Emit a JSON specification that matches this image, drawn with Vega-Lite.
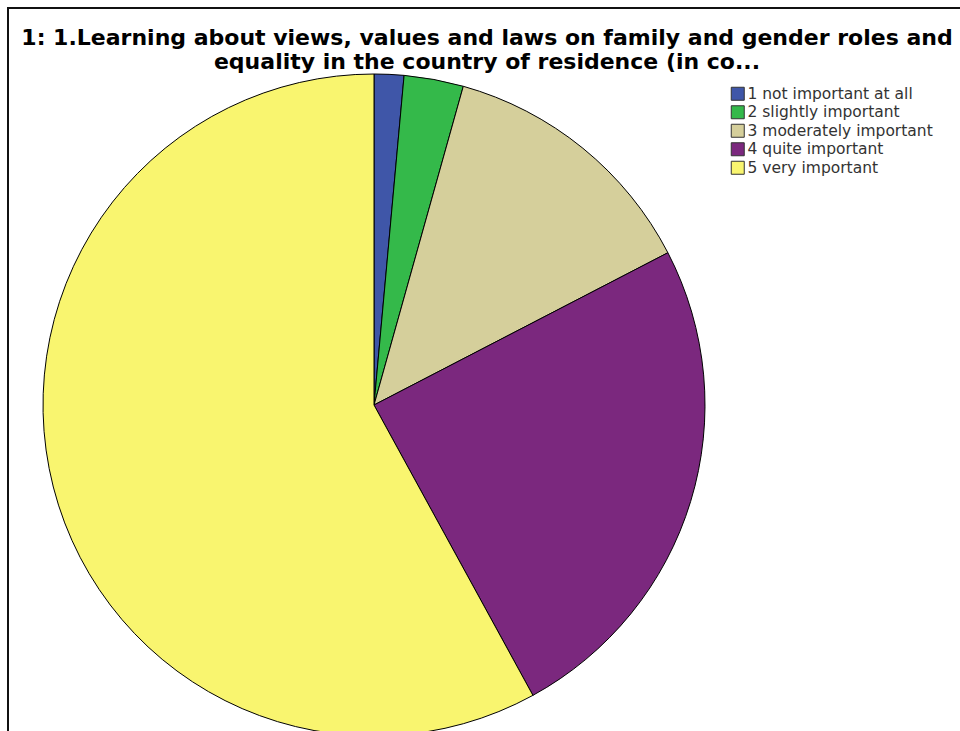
{
  "$schema": "https://vega.github.io/schema/vega-lite/v6.json",
  "autosize": "none",
  "width": 952,
  "height": 723,
  "padding": {"left": 8, "top": 8, "right": 0, "bottom": 0},
  "background": "white",
  "config": {"view": {"stroke": null}},
  "title": {
    "text": ["1: 1.Learning about views, values and laws on family and gender roles and", "equality in the country of residence (in co..."],
    "font": "DejaVu Sans",
    "fontSize": 22,
    "fontWeight": "bold",
    "color": "#000000",
    "lineHeight": 24,
    "anchor": "middle",
    "dx": 3,
    "offset": -67
  },
  "layer": [
    {
      "data": {"values": [{"frame": 1}]},
      "mark": {"type": "rect", "fill": null, "stroke": "#111111", "strokeWidth": 2, "strokeDash": [952, 1675, 723]},
      "encoding": {}
    },
    {
      "data": {
        "values": [
          {"code": 1, "category": "1 not important at all", "count": 1},
          {"code": 2, "category": "2 slightly important", "count": 2},
          {"code": 3, "category": "3 moderately important", "count": 9},
          {"code": 4, "category": "4 quite important", "count": 17},
          {"code": 5, "category": "5 very important", "count": 40}
        ]
      },
      "mark": {"type": "arc", "x": 366, "y": 397, "outerRadius": 331, "stroke": "#000000", "strokeWidth": 1},
      "encoding": {
        "theta": {"field": "count", "type": "quantitative", "stack": true},
        "order": {"field": "code", "type": "quantitative"},
        "color": {
          "field": "category",
          "type": "nominal",
          "scale": {
            "domain": ["1 not important at all", "2 slightly important", "3 moderately important", "4 quite important", "5 very important"],
            "range": ["#3f56a8", "#34b94a", "#d5cf9b", "#7b287e", "#f9f56f"]
          },
          "legend": {
            "title": null,
            "orient": "none",
            "legendX": 722,
            "legendY": 78,
            "symbolType": "square",
            "symbolSize": 169,
            "symbolStrokeColor": "#333333",
            "symbolStrokeWidth": 1,
            "symbolOpacity": 1,
            "rowPadding": 0.5,
            "labelFont": "DejaVu Sans",
            "labelFontSize": 15.5,
            "labelColor": "#333333",
            "labelOffset": 2,
            "labelLimit": 300
          }
        }
      }
    }
  ]
}
